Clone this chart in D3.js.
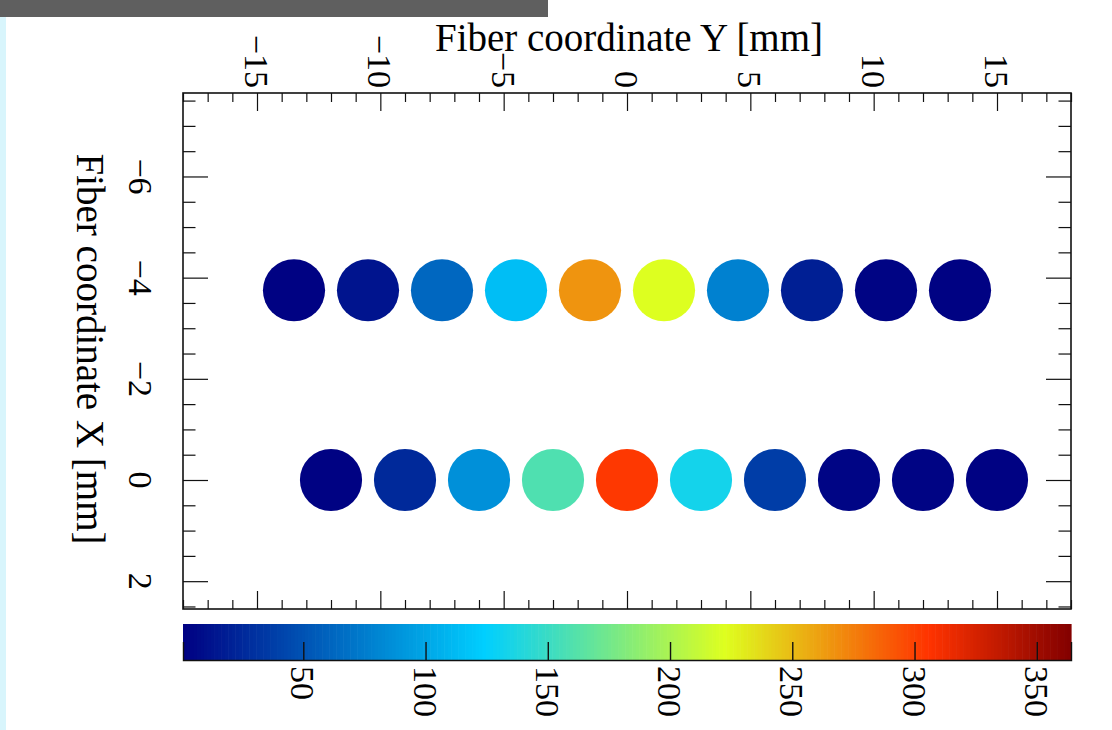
<!DOCTYPE html>
<html>
<head>
<meta charset="utf-8">
<script src="https://cdn.jsdelivr.net/npm/d3@7"></script>
<style>
  body { margin: 0; background: #fff; }
  svg { display: block; font-family: "Liberation Serif", "DejaVu Serif", serif; }
</style>
</head>
<body>
<svg width="1112" height="730"></svg>
<script>
// fiber positions along Y [mm] for the two rows, and their rows in X [mm]
var rowX = [-3.75, 0];
var upperY = [-13.5, -10.5, -7.5, -4.5, -1.5, 1.5, 4.5, 7.5, 10.5, 13.5];
var lowerY = [-12, -9, -6, -3, 0, 3, 6, 9, 12, 15];
// measured values per fiber
var upperVals = [2, 13, 62, 114, 266, 222, 78, 19, 3, 2];
var lowerVals = [2, 25, 87, 159, 304, 133, 37, 4, 3, 2];

var yTicks = [-15, -10, -5, 0, 5, 10, 15];
var xTicks = [-6, -4, -2, 0, 2];
var zTicks = [50, 100, 150, 200, 250, 300, 350];
var zRange = [0.8, 364];

// palette stops (ROOT style gradient)
var stops = [0, 0.34, 0.61, 0.84, 1];
var stopColors = ['rgb(0,0,130)', 'rgb(0,207,255)', 'rgb(222,255,31)', 'rgb(255,51,0)', 'rgb(130,0,0)'];

var svg = d3.select('svg');
var frameL = 183, frameR = 1071, frameT = 93, frameB = 609;

svg.append('rect').attr('width', 1112).attr('height', 730).attr('fill', '#fff');
svg.append('rect').attr('x', 0).attr('y', 0).attr('width', 548).attr('height', 17).attr('fill', '#5f5f5f');
svg.append('rect').attr('x', 0).attr('y', 17).attr('width', 6).attr('height', 713).attr('fill', '#d8f5fc');

var xScale = d3.scaleLinear().domain([-18, 18]).range([frameL, frameR]);     // fiber Y (horizontal)
var yScale = d3.scaleLinear().domain([-7.65, 2.55]).range([frameT, frameB]); // fiber X (vertical)
var zScale = d3.scaleLinear().domain(zRange).range([frameL, frameR]);
var color = d3.scaleLinear()
    .domain(stops.map(s => zRange[0] + s * (zRange[1] - zRange[0])))
    .range(stopColors)
    .interpolate(d3.interpolateRgb)
    .clamp(true);

// fibers
var fibers = [];
upperY.forEach((y, i) => fibers.push({y: y, x: rowX[0], v: upperVals[i]}));
lowerY.forEach((y, i) => fibers.push({y: y, x: rowX[1], v: lowerVals[i]}));
var r = xScale(1.26) - xScale(0);
svg.append('g').selectAll('circle')
    .data(fibers)
    .enter().append('circle')
    .attr('cx', d => xScale(d.y))
    .attr('cy', d => yScale(d.x))
    .attr('r', r)
    .style('fill', d => color(d.v));

// ticks, pointing into the frame on all four sides
function ticks(axis, tr) {
    var g = svg.append('g').attr('transform', tr).call(axis);
    g.select('.domain').remove();
    g.selectAll('line').attr('stroke', '#111').attr('stroke-width', 1.2);
}
var minorY = d3.range(-18, 18.01, 1).filter(v => v % 5 != 0);
var minorX = d3.range(-7.5, 2.51, 0.5).filter(v => v % 2 != 0);
ticks(d3.axisTop(xScale).tickValues(yTicks).tickSize(-18).tickFormat(''), `translate(0,${frameT})`);
ticks(d3.axisTop(xScale).tickValues(minorY).tickSize(-9).tickFormat(''), `translate(0,${frameT})`);
ticks(d3.axisBottom(xScale).tickValues(yTicks).tickSize(-18).tickFormat(''), `translate(0,${frameB})`);
ticks(d3.axisBottom(xScale).tickValues(minorY).tickSize(-9).tickFormat(''), `translate(0,${frameB})`);
ticks(d3.axisLeft(yScale).tickValues(xTicks).tickSize(-25).tickFormat(''), `translate(${frameL},0)`);
ticks(d3.axisLeft(yScale).tickValues(minorX).tickSize(-12.5).tickFormat(''), `translate(${frameL},0)`);
ticks(d3.axisRight(yScale).tickValues(xTicks).tickSize(-25).tickFormat(''), `translate(${frameR},0)`);
ticks(d3.axisRight(yScale).tickValues(minorX).tickSize(-12.5).tickFormat(''), `translate(${frameR},0)`);

svg.append('rect')
    .attr('x', frameL).attr('y', frameT)
    .attr('width', frameR - frameL).attr('height', frameB - frameT)
    .attr('fill', 'none').attr('stroke', '#111').attr('stroke-width', 1.6);

var fmt = v => v < 0 ? '\u2212' + Math.abs(v) : String(v);

// top tick labels (rotated)
svg.append('g').selectAll('text')
    .data(yTicks)
    .enter().append('text')
    .attr('transform', d => `translate(${xScale(d)},88) rotate(90)`)
    .attr('dy', '0.35em')
    .style('text-anchor', 'end')
    .style('font-size', '34px')
    .text(fmt);

// left tick labels (rotated)
svg.append('g').selectAll('text')
    .data(xTicks)
    .enter().append('text')
    .attr('transform', d => `translate(141,${yScale(d)}) rotate(90)`)
    .attr('dy', '0.35em')
    .style('text-anchor', 'middle')
    .style('font-size', '34px')
    .text(fmt);

// axis titles
svg.append('text')
    .attr('x', 629).attr('y', 51)
    .style('text-anchor', 'middle')
    .style('font-size', '39px')
    .text('Fiber coordinate Y [mm]');
svg.append('text')
    .attr('transform', 'translate(90,349) rotate(90)')
    .attr('dy', '0.33em')
    .style('text-anchor', 'middle')
    .style('font-size', '39px')
    .text('Fiber coordinate X [mm]');

// colour bar
var cbTop = 624, cbBottom = 660;
var bands = d3.range(0, 255).map(i => zRange[0] + (i + 0.5) * (zRange[1] - zRange[0]) / 255);
var bw = (frameR - frameL) / 255;
svg.append('g').selectAll('rect')
    .data(bands)
    .enter().append('rect')
    .attr('x', d => zScale(d) - bw / 2)
    .attr('y', cbTop)
    .attr('width', bw + 0.6)
    .attr('height', cbBottom - cbTop)
    .attr('fill', d => color(d));
var zAxis = svg.append('g').attr('transform', `translate(0,${cbBottom})`)
    .call(d3.axisTop(zScale).tickValues(zTicks).tickSize(18).tickFormat(''));
zAxis.select('.domain').attr('stroke', '#111').attr('stroke-width', 1.4);
zAxis.selectAll('line').attr('stroke', '#111').attr('stroke-width', 1.4);
svg.append('g').selectAll('text')
    .data(zTicks)
    .enter().append('text')
    .attr('transform', d => `translate(${zScale(d)},666) rotate(90)`)
    .attr('dy', '0.35em')
    .style('text-anchor', 'start')
    .style('font-size', '34px')
    .text(fmt);
</script>
</body>
</html>
